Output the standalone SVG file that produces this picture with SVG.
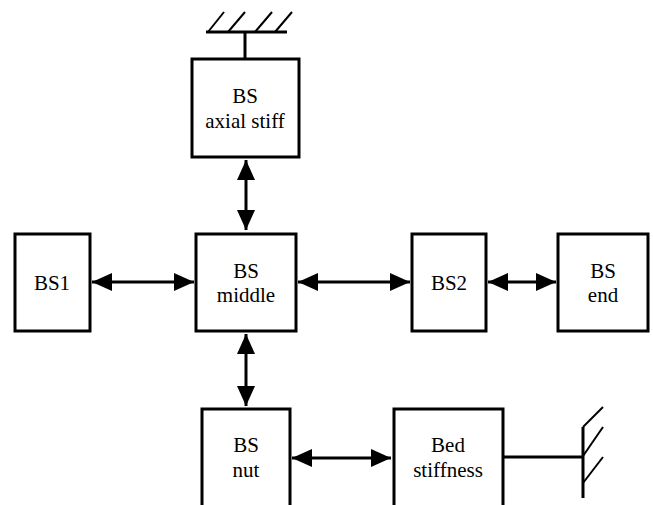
<svg xmlns="http://www.w3.org/2000/svg" width="653" height="505" viewBox="0 0 653 505">
  <style>
    .box { fill: #fff; stroke: #000; stroke-width: 3; }
    .lbl { font-size: 21px; fill: #000; text-anchor: middle; }
    .wire { stroke: #000; stroke-width: 3; fill: none; }
    .gnd { stroke: #000; stroke-width: 2; fill: none; }
  </style>
  <defs>
    <marker id="ah" markerWidth="20" markerHeight="18" refX="20" refY="9" orient="auto-start-reverse" markerUnits="userSpaceOnUse">
      <path d="M0,0 L20,9 L0,18 Z" fill="#000"/>
    </marker>
  </defs>
  <rect width="653" height="505" fill="#fff"/>

  <!-- fixed supports -->
  <g id="ground-top">
    <line class="wire" x1="206" y1="32" x2="287" y2="32"/>
    <line class="gnd" x1="208" y1="32" x2="224" y2="12"/>
    <line class="gnd" x1="228" y1="32" x2="245" y2="12"/>
    <line class="gnd" x1="255" y1="32" x2="272" y2="12"/>
    <line class="gnd" x1="275" y1="32" x2="292" y2="12"/>
    <line class="wire" x1="245" y1="32" x2="245" y2="58"/>
  </g>
  <g id="ground-right">
    <line class="wire" x1="503" y1="457" x2="583" y2="457"/>
    <line class="wire" x1="583" y1="427" x2="583" y2="498"/>
    <line class="gnd" x1="583" y1="427" x2="603" y2="407"/>
    <line class="gnd" x1="583" y1="456" x2="603" y2="427"/>
    <line class="gnd" x1="583" y1="483" x2="603" y2="457"/>
  </g>

  <!-- connectors -->
  <g id="connectors">
    <line class="wire" x1="246" y1="160" x2="246" y2="230" marker-start="url(#ah)" marker-end="url(#ah)"/>
    <line class="wire" x1="246" y1="334" x2="246" y2="406" marker-start="url(#ah)" marker-end="url(#ah)"/>
    <line class="wire" x1="92" y1="282" x2="194" y2="282" marker-start="url(#ah)" marker-end="url(#ah)"/>
    <line class="wire" x1="298" y1="282" x2="410" y2="282" marker-start="url(#ah)" marker-end="url(#ah)"/>
    <line class="wire" x1="488" y1="282" x2="556" y2="282" marker-start="url(#ah)" marker-end="url(#ah)"/>
    <line class="wire" x1="292" y1="458" x2="391" y2="458" marker-start="url(#ah)" marker-end="url(#ah)"/>
  </g>

  <!-- nodes -->
  <g font-family="Liberation Serif, Times New Roman, serif">
    <g id="bs-axial">
      <rect class="box" x="192" y="59" width="107" height="98"/>
      <text class="lbl" x="245" y="103">BS</text>
      <text class="lbl" x="245" y="128">axial stiff</text>
    </g>
    <g id="bs1">
      <rect class="box" x="15" y="234" width="75" height="97"/>
      <text class="lbl" x="52" y="290">BS1</text>
    </g>
    <g id="bs-middle">
      <rect class="box" x="196" y="234" width="100" height="97"/>
      <text class="lbl" x="246" y="278">BS</text>
      <text class="lbl" x="246" y="302">middle</text>
    </g>
    <g id="bs2">
      <rect class="box" x="412" y="234" width="74" height="97"/>
      <text class="lbl" x="449" y="290">BS2</text>
    </g>
    <g id="bs-end">
      <rect class="box" x="558" y="234" width="90" height="97"/>
      <text class="lbl" x="603" y="278">BS</text>
      <text class="lbl" x="603" y="302">end</text>
    </g>
    <g id="bs-nut">
      <path class="box" d="M202,510 V409 H290 V510"/>
      <text class="lbl" x="246" y="452">BS</text>
      <text class="lbl" x="246" y="477">nut</text>
    </g>
    <g id="bed-stiffness">
      <path class="box" d="M394,510 V409 H503 V510"/>
      <text class="lbl" x="448" y="452">Bed</text>
      <text class="lbl" x="448" y="477">stiffness</text>
    </g>
  </g>
</svg>
